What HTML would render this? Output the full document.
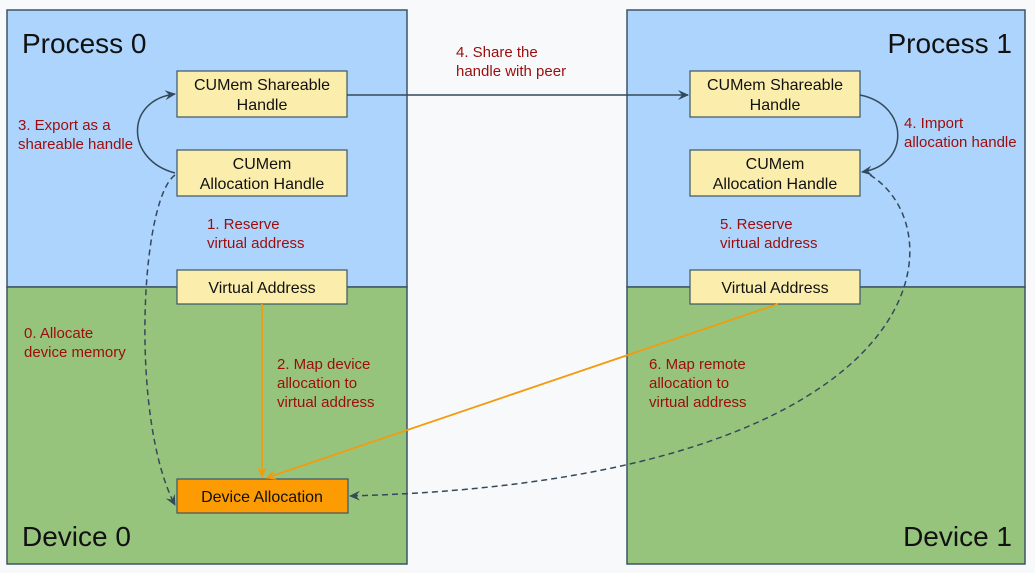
<!DOCTYPE html>
<html><head><meta charset="utf-8"><style>
body{margin:0;background:#f8f9fb;}
svg{display:block;font-family:"Liberation Sans",sans-serif;}
</style></head><body>
<svg width="1035" height="573" viewBox="0 0 1035 573" xmlns="http://www.w3.org/2000/svg">
<defs>
<marker id="ad" markerWidth="12" markerHeight="10" refX="10" refY="5" orient="auto" markerUnits="userSpaceOnUse"><path d="M0,0 L11,5 L0,10 L4,5 Z" fill="#34495a"/></marker>
<marker id="ao" markerWidth="12" markerHeight="10" refX="10" refY="5" orient="auto" markerUnits="userSpaceOnUse"><path d="M0,0 L11,5 L0,10 L4,5 Z" fill="#f29b0e"/></marker>
</defs>
<rect x="0" y="0" width="1035" height="573" fill="#f8f9fb"/>
<rect x="7" y="10" width="400" height="277" fill="#acd4fc" stroke="#3d5566" stroke-width="1.5"/>
<rect x="7" y="287" width="400" height="277" fill="#97c47d" stroke="#3d5566" stroke-width="1.5"/>
<rect x="627" y="10" width="398" height="277" fill="#acd4fc" stroke="#3d5566" stroke-width="1.5"/>
<rect x="627" y="287" width="398" height="277" fill="#97c47d" stroke="#3d5566" stroke-width="1.5"/>
<g font-size="28" fill="#111">
<text x="22" y="53">Process 0</text>
<text x="1012" y="53" text-anchor="end">Process 1</text>
<text x="22" y="546">Device 0</text>
<text x="1012" y="546" text-anchor="end">Device 1</text>
</g>
<g fill="#fbeeac" stroke="#3d5566" stroke-width="1.2">
<rect x="177" y="71" width="170" height="46"/>
<rect x="177" y="150" width="170" height="46"/>
<rect x="177" y="270" width="170" height="34"/>
<rect x="690" y="71" width="170" height="46"/>
<rect x="690" y="150" width="170" height="46"/>
<rect x="690" y="270" width="170" height="34"/>
</g>
<rect x="177" y="479" width="171" height="34" fill="#fd9b03" stroke="#3d5566" stroke-width="1.2"/>
<g font-size="16" fill="#111" text-anchor="middle">
<text x="262" y="90">CUMem Shareable</text><text x="262" y="110">Handle</text>
<text x="262" y="169">CUMem</text><text x="262" y="189">Allocation Handle</text>
<text x="262" y="293">Virtual Address</text>
<text x="775" y="90">CUMem Shareable</text><text x="775" y="110">Handle</text>
<text x="775" y="169">CUMem</text><text x="775" y="189">Allocation Handle</text>
<text x="775" y="293">Virtual Address</text>
<text x="262" y="502">Device Allocation</text>
</g>
<g font-size="15" fill="#9b0d0d">
<text x="18" y="130">3. Export as a</text><text x="18" y="149">shareable handle</text>
<text x="207" y="229">1. Reserve</text><text x="207" y="248">virtual address</text>
<text x="24" y="338">0. Allocate</text><text x="24" y="357">device memory</text>
<text x="277" y="369">2. Map device</text><text x="277" y="388">allocation to</text><text x="277" y="407">virtual address</text>
<text x="456" y="57">4. Share the</text><text x="456" y="76">handle with peer</text>
<text x="904" y="128">4. Import</text><text x="904" y="147">allocation handle</text>
<text x="720" y="229">5. Reserve</text><text x="720" y="248">virtual address</text>
<text x="649" y="369">6. Map remote</text><text x="649" y="388">allocation to</text><text x="649" y="407">virtual address</text>
</g>
<g fill="none" stroke="#34495a" stroke-width="1.5">
<path d="M347,95 L688,95" marker-end="url(#ad)"/>
<path d="M175,173 C125,160 125,100 175,94" marker-end="url(#ad)"/>
<path d="M860,95 C910,105 910,165 862,172" marker-end="url(#ad)"/>
<path d="M175,175 C140,200 130,420 175,505" stroke-dasharray="6,4" marker-end="url(#ad)"/>
<path d="M870,175 C960,230 940,480 350,496" stroke-dasharray="6,4" marker-end="url(#ad)"/>
</g>
<g fill="none" stroke="#f29b0e" stroke-width="1.8">
<path d="M262,304 L262,477" marker-end="url(#ao)"/>
<path d="M778,304 L266,478" marker-end="url(#ao)"/>
</g>
</svg>
</body></html>
